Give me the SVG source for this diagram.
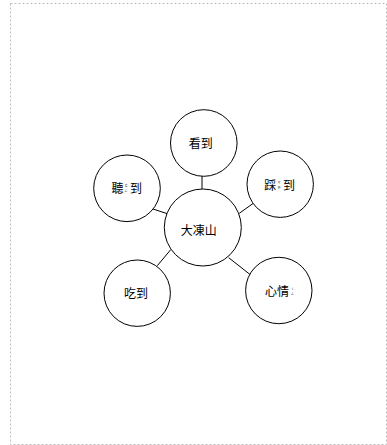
<svg xmlns="http://www.w3.org/2000/svg" width="387" height="445" viewBox="0 0 387 445">
<style>
.n{fill:#fff;stroke:#000;stroke-width:1}
.t{font-family:"Noto Sans CJK TC","Noto Sans CJK SC",sans-serif;font-size:12px;fill:#000}
.s{font-family:"Noto Sans CJK TC","Noto Sans CJK SC",sans-serif;font-size:3.2px;fill:#000;text-anchor:middle}
.c{stroke:#000;stroke-width:1;fill:none}
</style>
<rect x="10.5" y="3.5" width="376" height="441" fill="#fff" stroke="#bbb" stroke-width="1" stroke-dasharray="2,2"/>
<g id="connectors">
<line class="c" x1="202" y1="176" x2="202" y2="189"/>
<line class="c" x1="153" y1="209" x2="167.3" y2="213.7"/>
<line class="c" x1="239.3" y1="213.3" x2="253.7" y2="203"/>
<line class="c" x1="157.3" y1="265.7" x2="170.7" y2="249.7"/>
<line class="c" x1="228.7" y1="257.7" x2="250.3" y2="274.7"/>
</g>
<g id="center">
<circle class="n" cx="202.8" cy="227.5" r="38.5"/>
<text class="t" x="198.7" y="234.5" text-anchor="middle">大凍山</text>
</g>
<g id="kan">
<circle class="n" cx="203.8" cy="143" r="33.3"/>
<text class="t" x="200.8" y="147.5" text-anchor="middle">看到</text>
</g>
<g id="ting">
<circle class="n" cx="127" cy="188.3" r="33.3"/>
<text class="t" x="111.5" y="192.5">聽</text>
<text class="s" x="126.2" y="187">ㄊ</text>
<text class="s" x="126.2" y="191.8">ㄥ</text>
<text class="t" x="130" y="192.5">到</text>
</g>
<g id="cai">
<circle class="n" cx="280.2" cy="184.2" r="33.2"/>
<text class="t" x="264.3" y="189.5">踩</text>
<text class="s" x="279" y="184">ㄘ</text>
<text class="s" x="279" y="188.8">ㄞ</text>
<text class="t" x="283" y="189.5">到</text>
</g>
<g id="xinqing">
<circle class="n" cx="278.8" cy="290.5" r="33.2"/>
<text class="t" x="265" y="296">心情</text>
<text class="s" x="292.5" y="290">ㄑ</text>
<text class="s" x="292.5" y="294.8">ㄥ</text>
</g>
<g id="chi">
<circle class="n" cx="137.2" cy="293.2" r="33.2"/>
<text class="t" x="136" y="297.5" text-anchor="middle">吃到</text>
</g>
</svg>
